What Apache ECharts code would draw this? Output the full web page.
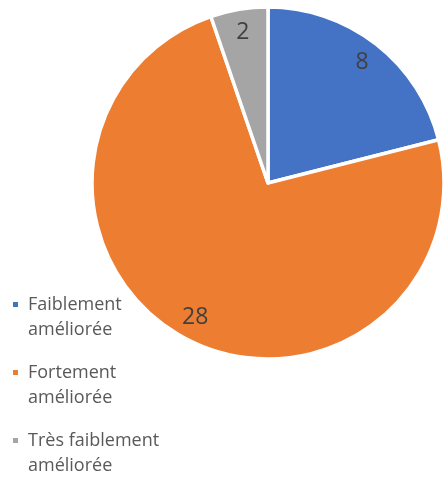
<!DOCTYPE html>
<html>
<head>
<meta charset="utf-8">
<script src="https://cdn.jsdelivr.net/npm/echarts@6/dist/echarts.min.js"></script>
<style>
  html, body { margin: 0; padding: 0; background: #fff; }
  #chart { width: 444px; height: 478px; }
</style>
</head>
<body>
<div id="chart"></div>
<script>
const categories = ["Faiblement améliorée", "Fortement améliorée", "Très faiblement améliorée"]
const values = [8, 28, 2]
const colors = ["#4472C4", "#ED7D31", "#A5A5A5"]

// legend label wraps onto two lines like the original
const legendLines = {
    "Faiblement améliorée": ["Faiblement", "améliorée"],
    "Fortement améliorée": ["Fortement", "améliorée"],
    "Très faiblement améliorée": ["Très faiblement", "améliorée"]
}

const pieData = categories.map((name, i) => ({
    name: name,
    value: values[i],
    itemStyle: {color: colors[i]}
}))

const chart = echarts.init(document.getElementById("chart"))

const option = {
    animation: false,
    textStyle: {fontFamily: "Open Sans"},
    legend: {
        orient: "vertical",
        left: 11,
        top: 267,
        padding: 0,
        icon: "rect",
        itemWidth: 7,
        itemHeight: 7,
        itemGap: -7,
        data: categories,
        // empty first line so the icon sits next to the first visible line
        formatter: name => "\n" + legendLines[name].join("\n"),
        textStyle: {
            fontFamily: "Open Sans",
            fontSize: 18,
            color: "#595959",
            lineHeight: 25,
            padding: [0, 0, 0, 4]
        }
    },
    series: [
        {
            type: "pie",
            center: [268, 183],
            radius: [0, 176],
            startAngle: 90,
            clockwise: true,
            data: pieData,
            label: {show: false},
            labelLine: {show: false},
            itemStyle: {borderColor: "#fff", borderWidth: 3.5},
            emphasis: {scale: false}
        },
        {
            // transparent ring only used to place the value labels near the rim
            type: "pie",
            center: [268, 183],
            radius: [124, 176],
            startAngle: 90,
            clockwise: true,
            silent: true,
            data: categories.map((name, i) => ({name: name, value: values[i]})),
            itemStyle: {color: "transparent", borderWidth: 0},
            label: {
                show: true,
                position: "inside",
                formatter: "{c}",
                fontFamily: "Open Sans",
                fontSize: 23,
                color: "#404040"
            },
            labelLine: {show: false},
            emphasis: {disabled: true}
        }
    ]
}

chart.setOption(option)
</script>
</body>
</html>
